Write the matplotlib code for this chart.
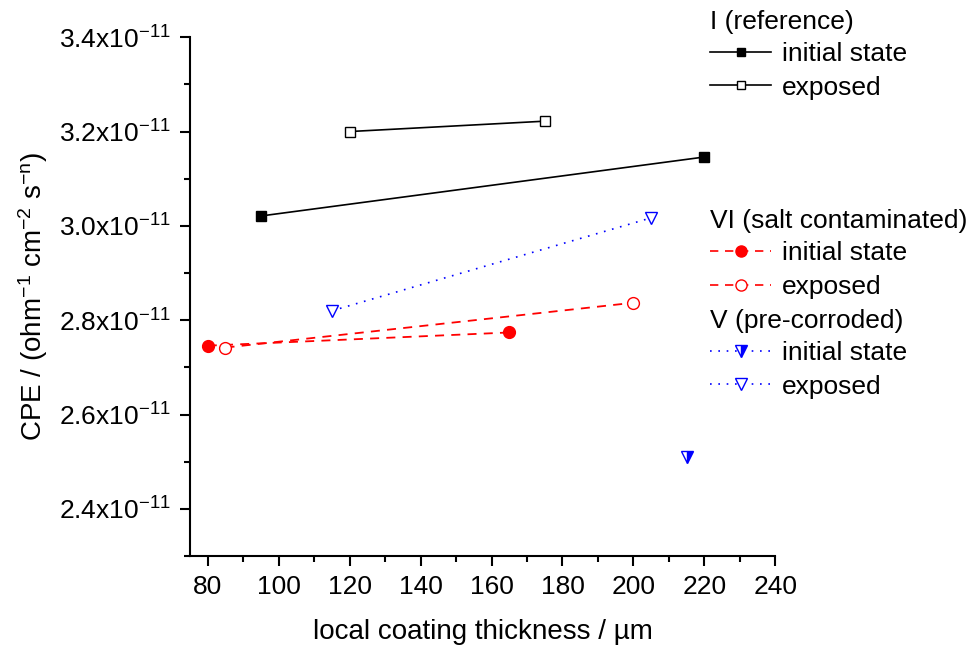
import numpy as np
import matplotlib
matplotlib.use('Agg')
import matplotlib.pyplot as plt
from matplotlib.ticker import MultipleLocator, FuncFormatter
from matplotlib.lines import Line2D

plt.rcParams['font.family'] = ['Liberation Sans', 'DejaVu Sans']
plt.rcParams['mathtext.fontset'] = 'custom'
plt.rcParams['mathtext.rm'] = 'Liberation Sans'
plt.rcParams['mathtext.it'] = 'Liberation Sans:italic'
plt.rcParams['mathtext.bf'] = 'Liberation Sans:bold'

# series (thickness in um, CPE in ohm^-1 cm^-2 s^n)
ref_init_x = [95, 220]
ref_init_y = [3.021e-11, 3.146e-11]
ref_exp_x = [120, 175]
ref_exp_y = [3.200e-11, 3.222e-11]
salt_init_x = [80, 165]
salt_init_y = [2.746e-11, 2.774e-11]
salt_exp_x = [85, 200]
salt_exp_y = [2.742e-11, 2.837e-11]
pre_init_x = [215]
pre_init_y = [2.509e-11]
pre_exp_x = [115, 205]
pre_exp_y = [2.820e-11, 3.017e-11]

x_ticks = [80, 100, 120, 140, 160, 180, 200, 220, 240]
y_ticks = [2.4e-11, 2.6e-11, 2.8e-11, 3.0e-11, 3.2e-11, 3.4e-11]

FS = 19
LFS = 20

fig = plt.figure(figsize=(9.77, 6.53), dpi=100)
ax = fig.add_axes([0.1945, 0.1485, 0.599, 0.7945])

red = '#ff0000'
blue = '#0000ff'

ax.plot(ref_init_x, ref_init_y, color='black', lw=1.2, marker='s', ms=7,
        mfc='black', mec='black', clip_on=False)
ax.plot(ref_exp_x, ref_exp_y, color='black', lw=1.2, marker='s', ms=7,
        mfc='white', mec='black', clip_on=False)
ax.plot(salt_init_x, salt_init_y, color=red, lw=1.3, ls=(0, (5, 4)),
        marker='o', ms=8.5, mfc=red, mec=red, clip_on=False)
ax.plot(salt_exp_x, salt_exp_y, color=red, lw=1.3, ls=(0, (5, 4)),
        marker='o', ms=8.5, mfc='white', mec=red, clip_on=False)
ax.plot(pre_init_x, pre_init_y, color=blue, lw=1.2, ls=(0, (1, 4)),
        marker='v', ms=9, mfc=blue, mec=blue, fillstyle='right',
        markerfacecoloralt='white', clip_on=False)
ax.plot(pre_exp_x, pre_exp_y, color=blue, lw=1.2, ls=(0, (1, 4)),
        marker='v', ms=9, mfc='white', mec=blue, clip_on=False)

ax.set_xlim(75, 240)
ax.set_ylim(2.3e-11, 3.4e-11)
ax.set_xticks(x_ticks)
ax.set_yticks(y_ticks)
ax.xaxis.set_minor_locator(MultipleLocator(10))
ax.yaxis.set_minor_locator(MultipleLocator(0.1e-11))
ax.yaxis.set_major_formatter(FuncFormatter(
    lambda v, p: r'$%.1f\mathrm{x}10^{\mathrm{-11}}$' % (v * 1e11)))

for s in ['top', 'right']:
    ax.spines[s].set_visible(False)
for s in ['left', 'bottom']:
    ax.spines[s].set_linewidth(1.5)
ax.tick_params(which='major', direction='out', length=7, width=1.5,
               labelsize=FS, pad=7)
ax.tick_params(which='minor', direction='out', length=4, width=1.5)

ax.set_xlabel('local coating thickness / \u00b5m', fontsize=LFS, labelpad=14)
ax.set_ylabel(r'CPE / (ohm$^{\mathrm{-1}}$ cm$^{\mathrm{-2}}$ s$^{\mathrm{-n}}$)',
              fontsize=LFS, labelpad=6)


def handle(color, ls, marker, mfc, ms, **kw):
    return Line2D([], [], color=color, ls=ls, lw=1.2, marker=marker,
                  mfc=mfc, mec=color, ms=ms, **kw)


groups = [
    ('I (reference)',
     [handle('black', '-', 's', 'black', 6),
      handle('black', '-', 's', 'white', 6)], 0.985),
    ('VI (salt contaminated)',
     [handle(red, (0, (5, 4)), 'o', red, 8),
      handle(red, (0, (5, 4)), 'o', 'white', 8)], 0.680),
    ('V (pre-corroded)',
     [handle(blue, (0, (1, 4)), 'v', blue, 8, fillstyle='right',
             markerfacecoloralt='white'),
      handle(blue, (0, (1, 4)), 'v', 'white', 8)], 0.527),
]
for title, hs, ytop in groups:
    leg = fig.legend(hs, ['initial state', 'exposed'], loc='upper left',
                     bbox_to_anchor=(0.727, ytop), frameon=False,
                     fontsize=FS, title=title, title_fontsize=FS,
                     alignment='left', handlelength=2.3, handletextpad=0.4,
                     labelspacing=0.36, borderpad=0, borderaxespad=0,
                     numpoints=1)
    leg._legend_box.sep = 6

fig.savefig('out.png', dpi=100)
